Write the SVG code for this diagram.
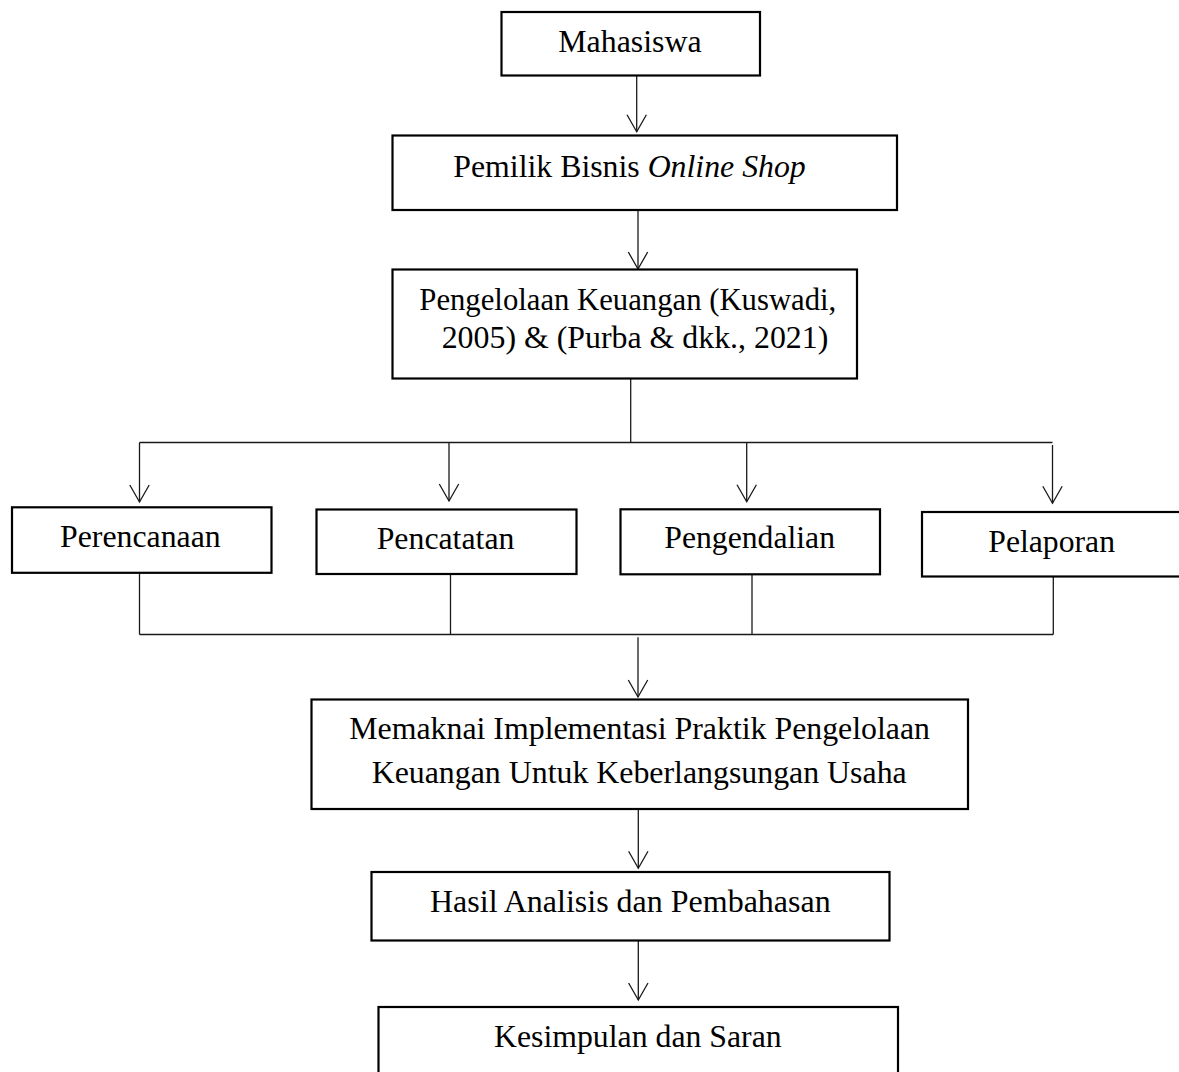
<svg xmlns="http://www.w3.org/2000/svg" width="1179" height="1072" viewBox="0 0 1179 1072">
  <style>
    .box { fill: #ffffff; stroke: #000000; stroke-width: 2.2; }
    .lbl { font-family: "Liberation Serif", "Times New Roman", serif; font-size: 31.8px; fill: #000000; }
    .conn { fill: none; stroke: #1a1a1a; stroke-width: 1.3; }
    .arr { marker-end: url(#vhead); }
  </style>
  <defs>
    <marker id="vhead" markerUnits="userSpaceOnUse" markerWidth="20" markerHeight="22" refX="0" refY="0" orient="auto" overflow="visible">
      <path d="M-17,-9.7 L0,0 L-17,9.7" fill="none" stroke="#1a1a1a" stroke-width="1.3"/>
    </marker>
  </defs>
  <rect width="1179" height="1072" fill="#ffffff"/>

  <g id="connectors">
    <path class="conn arr" d="M636.7,76 V131.7"/>
    <path class="conn arr" d="M638,210.5 V269"/>
    <path class="conn" d="M630.7,378.7 V442.5"/>
    <path class="conn" d="M139.5,442.5 H1052.5"/>
    <path class="conn arr" d="M139.5,442.5 V502"/>
    <path class="conn arr" d="M449,442.5 V501"/>
    <path class="conn arr" d="M746.7,442.5 V501.7"/>
    <path class="conn arr" d="M1052.5,445 V503.3"/>
    <path class="conn" d="M139.5,573 V634.5"/>
    <path class="conn" d="M450.5,571.7 V634.5"/>
    <path class="conn" d="M752,570.7 V634.5"/>
    <path class="conn" d="M1053.3,576.7 V634.5"/>
    <path class="conn" d="M139.5,634.5 H1053.3"/>
    <path class="conn arr" d="M638,637.3 V697"/>
    <path class="conn arr" d="M638.3,809.5 V868.3"/>
    <path class="conn arr" d="M638.3,941 V1000"/>
  </g>

  <g id="node-mahasiswa">
    <rect class="box" x="501.5" y="12" width="258.5" height="63.5"/>
    <text class="lbl" x="558.3" y="51.7" textLength="143.3" lengthAdjust="spacingAndGlyphs">Mahasiswa</text>
  </g>

  <g id="node-pemilik">
    <rect class="box" x="392.5" y="135.5" width="504.5" height="74.5"/>
    <text class="lbl" x="453.3" y="176.7">Pemilik Bisnis <tspan font-style="italic">Online Shop</tspan></text>
  </g>

  <g id="node-pengelolaan">
    <rect class="box" x="392.5" y="269.5" width="464.5" height="109"/>
    <text class="lbl" x="419.3" y="310" textLength="417" lengthAdjust="spacingAndGlyphs">Pengelolaan Keuangan (Kuswadi,</text>
    <text class="lbl" x="441.7" y="347.7" textLength="386.6" lengthAdjust="spacingAndGlyphs">2005) &amp; (Purba &amp; dkk., 2021)</text>
  </g>

  <g id="node-perencanaan">
    <rect class="box" x="12" y="507.3" width="259.5" height="65.5"/>
    <text class="lbl" x="60" y="547.3" textLength="160.7" lengthAdjust="spacingAndGlyphs">Perencanaan</text>
  </g>

  <g id="node-pencatatan">
    <rect class="box" x="316.5" y="509.5" width="260" height="64.5"/>
    <text class="lbl" x="376.7" y="549.3">Pencatatan</text>
  </g>

  <g id="node-pengendalian">
    <rect class="box" x="620.5" y="509.3" width="259.5" height="65"/>
    <text class="lbl" x="664.3" y="548.3" textLength="170.7" lengthAdjust="spacingAndGlyphs">Pengendalian</text>
  </g>

  <g id="node-pelaporan">
    <rect class="box" x="922" y="512" width="270" height="64.5"/>
    <text class="lbl" x="988.3" y="551.7" textLength="126.7" lengthAdjust="spacingAndGlyphs">Pelaporan</text>
  </g>

  <g id="node-memaknai">
    <rect class="box" x="311.5" y="699.5" width="656.5" height="109.5"/>
    <text class="lbl" x="349.3" y="739.3" textLength="580.7" lengthAdjust="spacingAndGlyphs">Memaknai Implementasi Praktik Pengelolaan</text>
    <text class="lbl" x="371.7" y="782.7" textLength="535" lengthAdjust="spacingAndGlyphs">Keuangan Untuk Keberlangsungan Usaha</text>
  </g>

  <g id="node-hasil">
    <rect class="box" x="371.5" y="872" width="518" height="68.5"/>
    <text class="lbl" x="430" y="911.7" textLength="400.7" lengthAdjust="spacingAndGlyphs">Hasil Analisis dan Pembahasan</text>
  </g>

  <g id="node-kesimpulan">
    <rect class="box" x="378.5" y="1007" width="519.5" height="80"/>
    <text class="lbl" x="494" y="1046.7" textLength="287.7" lengthAdjust="spacingAndGlyphs">Kesimpulan dan Saran</text>
  </g>
</svg>
